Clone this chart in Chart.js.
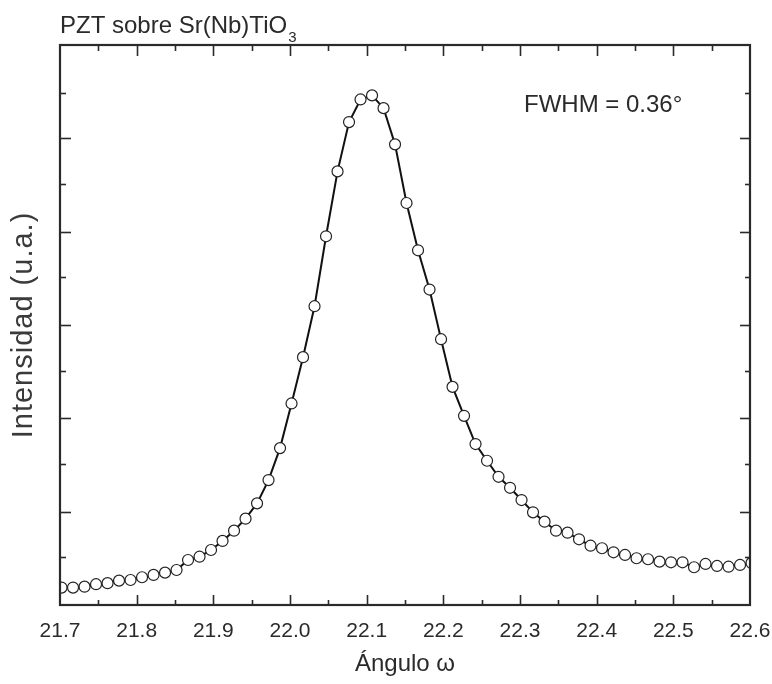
<!DOCTYPE html>
<html>
<head>
<meta charset="utf-8">
<script src="https://cdn.jsdelivr.net/npm/chart.js@4.4.0/dist/chart.umd.min.js"></script>
<style>
  html, body { margin: 0; padding: 0; background: #fff; }
  #peakChart { display: block; }
</style>
</head>
<body>
<canvas id="peakChart" width="772" height="684"></canvas>
<script>
// rocking curve data (omega scan)
const angles = [
  21.702, 21.717, 21.732, 21.747, 21.762, 21.777, 21.792, 21.807, 21.822, 21.837,
  21.852, 21.867, 21.882, 21.897, 21.912, 21.927, 21.942, 21.957, 21.972, 21.987,
  22.002, 22.017, 22.032, 22.047, 22.062, 22.077, 22.092, 22.107, 22.122, 22.137,
  22.152, 22.167, 22.182, 22.197, 22.212, 22.227, 22.242, 22.257, 22.272, 22.287,
  22.302, 22.317, 22.332, 22.347, 22.362, 22.377, 22.392, 22.407, 22.422, 22.437,
  22.452, 22.467, 22.482, 22.497, 22.512, 22.527, 22.542, 22.557, 22.572, 22.587,
  22.602
];
const intensity = [
  80, 80, 90, 117, 128, 156, 163, 193, 218, 243,
  272, 381, 417, 490, 589, 701, 832, 999, 1253, 1602,
  2089, 2594, 3150, 3913, 4621, 5159, 5406, 5450, 5311, 4916,
  4276, 3760, 3332, 2790, 2270, 1954, 1646, 1464, 1289, 1169,
  1035, 901, 799, 701, 679, 607, 537, 509, 465, 436,
  400, 389, 363, 356, 356, 302, 338, 316, 308, 327,
  349
];

const xMin = 21.7;
const xMax = 22.6;
const xStep = 0.1;
const yMin = -110;
const yMax = 6000;
const yStep = 1000;

const chartTitle = 'PZT sobre Sr(Nb)TiO';
const chartTitleSub = '3';
const fwhmLabel = 'FWHM = 0.36°';
const xTitle = 'Ángulo ω';
const yTitle = 'Intensidad (u.a.)';

const FONT = '"Liberation Sans", Arial, Helvetica, sans-serif';
const INK = '#2a2a2a';

// inward ticks on all four sides + frame + texts
const frameTicks = {
  id: 'frameTicks',
  afterDraw(chart) {
    const { ctx, chartArea: { left, right, top, bottom }, scales: { x, y } } = chart;
    ctx.save();
    ctx.strokeStyle = INK;
    ctx.lineWidth = 1.6;

    const xVals = x.ticks.map(t => t.value);
    const xMajor = xVals.filter(v => v > x.min + 1e-6 && v < x.max - 1e-6);
    const xMinor = [];
    for (let i = 1; i < xVals.length; i++) xMinor.push((xVals[i - 1] + xVals[i]) / 2);

    const yMajor = y.ticks.map(t => t.value).filter(v => v > 0 && v < y.max);
    const yMinor = yMajor.map(v => v - yStep / 2).concat([yMajor[yMajor.length - 1] + yStep / 2]);

    const tick = (x1, y1, x2, y2) => {
      ctx.beginPath();
      ctx.moveTo(x1, y1);
      ctx.lineTo(x2, y2);
      ctx.stroke();
    };

    xMajor.forEach(v => {
      const px = Math.round(x.getPixelForValue(v)) + 0.5;
      tick(px, bottom, px, bottom - 10);
      tick(px, top, px, top + 11);
    });
    xMinor.forEach(v => {
      const px = Math.round(x.getPixelForValue(v)) + 0.5;
      tick(px, bottom, px, bottom - 5);
      tick(px, top, px, top + 6);
    });
    yMajor.forEach(v => {
      const py = Math.round(y.getPixelForValue(v)) + 0.5;
      tick(left, py, left + 11, py);
      tick(right, py, right - 10, py);
    });
    yMinor.forEach(v => {
      const py = Math.round(y.getPixelForValue(v)) + 0.5;
      tick(left, py, left + 6, py);
      tick(right, py, right - 5, py);
    });

    ctx.lineWidth = 2.2;
    ctx.strokeRect(left, top, right - left, bottom - top);

    // header title with subscript
    ctx.fillStyle = INK;
    ctx.textBaseline = 'alphabetic';
    ctx.textAlign = 'left';
    ctx.font = '24px ' + FONT;
    ctx.fillText(chartTitle, 60, 33);
    const w = ctx.measureText(chartTitle).width;
    ctx.font = '15px ' + FONT;
    ctx.fillText(chartTitleSub, 60 + w + 1, 42);

    // annotation
    ctx.font = '24px ' + FONT;
    ctx.fillText(fwhmLabel, 524, 112);

    // y axis title
    ctx.translate(32, (top + bottom) / 2);
    ctx.rotate(-Math.PI / 2);
    ctx.font = '29px ' + FONT;
    ctx.letterSpacing = '1px';
    ctx.fillStyle = '#3a3a3a';
    ctx.textAlign = 'center';
    ctx.fillText(yTitle, 0, 0);
    ctx.restore();
  }
};

const points = angles.map((a, i) => ({ x: a, y: intensity[i] }));

const ctx = document.getElementById('peakChart').getContext('2d');
const chart = new Chart(ctx, {
  type: 'scatter',
  data: {
    datasets: [{
      data: points,
      showLine: true,
      borderColor: '#111',
      borderWidth: 2,
      tension: 0,
      pointRadius: 5.5,
      pointHoverRadius: 5.5,
      pointBorderWidth: 1.2,
      pointBorderColor: '#222',
      pointBackgroundColor: '#fff'
    }]
  },
  options: {
    responsive: false,
    animation: false,
    devicePixelRatio: 1,
    events: [],
    layout: { padding: { top: 45, right: 22, left: 0, bottom: 0 } },
    plugins: {
      legend: { display: false },
      tooltip: { enabled: false },
      title: { display: false }
    },
    scales: {
      x: {
        type: 'linear',
        min: xMin,
        max: xMax,
        grid: { display: false, drawTicks: false },
        border: { display: false },
        ticks: {
          stepSize: xStep,
          padding: 14,
          color: INK,
          font: { family: FONT, size: 21 },
          maxRotation: 0,
          autoSkip: false,
          callback: v => v.toFixed(1)
        },
        title: {
          display: true,
          text: xTitle,
          color: INK,
          font: { family: FONT, size: 24 },
          padding: { top: 4, bottom: 5 }
        },
        afterFit: s => { s.height = 79; s.paddingLeft = 0; s.paddingRight = 0; }
      },
      y: {
        type: 'linear',
        min: yMin,
        max: yMax,
        grid: { display: false, drawTicks: false },
        border: { display: false },
        ticks: { stepSize: yStep, display: false },
        title: { display: false },
        afterFit: s => { s.width = 60; }
      }
    }
  },
  plugins: [frameTicks]
});
</script>
</body>
</html>
